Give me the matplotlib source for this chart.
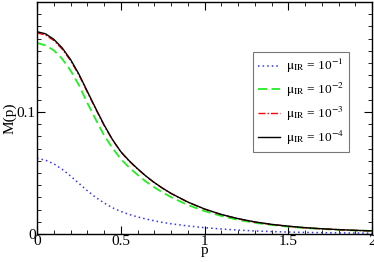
import matplotlib
matplotlib.use("Agg")
import matplotlib.pyplot as plt
from matplotlib.ticker import MultipleLocator, FuncFormatter

plt.rcParams['font.family'] = ['Liberation Serif', 'DejaVu Serif']
plt.rcParams['mathtext.fontset'] = 'stix'

p = [0.0, 0.05, 0.1, 0.15, 0.2, 0.25, 0.3, 0.35, 0.4, 0.45, 0.5, 0.55, 0.6, 0.65, 0.7,
     0.75, 0.8, 0.9, 1.0, 1.1, 1.2, 1.3, 1.4, 1.5, 1.6, 1.7, 1.8, 1.9, 2.0]
m4 = [0.1657, 0.164, 0.1595, 0.1525, 0.143, 0.131, 0.117, 0.103, 0.0895, 0.0775, 0.0675,
      0.0600, 0.0535, 0.0475, 0.0422, 0.0375, 0.0333, 0.0262, 0.0205, 0.0160, 0.0126,
      0.0099, 0.0079, 0.0064, 0.0052, 0.0043, 0.0036, 0.0030, 0.0026]
m3 = [0.1647, 0.1630, 0.1585, 0.1515, 0.1421, 0.1302, 0.1163, 0.1024, 0.0890, 0.0771, 0.0672,
      0.0597, 0.0533, 0.0473, 0.0420, 0.0374, 0.0332, 0.0261, 0.0204, 0.0159, 0.0125,
      0.0098, 0.0078, 0.0063, 0.0051, 0.0042, 0.0035, 0.0029, 0.0025]
m2 = [0.1565, 0.1545, 0.1505, 0.1435, 0.134, 0.122, 0.1075, 0.094, 0.081, 0.0705, 0.0615,
      0.0545, 0.0485, 0.043, 0.0383, 0.034, 0.0302, 0.0238, 0.0188, 0.0148, 0.0116,
      0.0092, 0.0074, 0.0060, 0.0049, 0.0041, 0.0034, 0.0029, 0.0025]
m1 = [0.062, 0.0605, 0.0575, 0.053, 0.0475, 0.0415, 0.0355, 0.030, 0.0255, 0.0215, 0.0185,
      0.016, 0.0140, 0.0123, 0.0108, 0.0095, 0.0084, 0.0066, 0.0052, 0.0041, 0.0032,
      0.0025, 0.0020, 0.0016, 0.0013, 0.0011, 0.0009, 0.0008, 0.0007]

labels = [r'$\mathrm{\mu_{IR}}$ = 10$^{\mathrm{-1}}$', r'$\mathrm{\mu_{IR}}$ = 10$^{\mathrm{-2}}$',
          r'$\mathrm{\mu_{IR}}$ = 10$^{\mathrm{-3}}$', r'$\mathrm{\mu_{IR}}$ = 10$^{\mathrm{-4}}$']

fig = plt.figure(figsize=(3.74, 2.62), dpi=100)
ax = fig.add_axes([37/374, 1-234/262, (372-37)/374, 232/262])

ax.plot(p, m1, color='#3333ff', linestyle=(0, (1, 2)), lw=1.1, label=labels[0])
ax.plot(p, m2, color='#22ee22', linestyle=(0, (5, 2.5)), lw=1.3, label=labels[1])
ax.plot(p, m3, color='#ff0000', linestyle=(0, (5, 1.5, 1, 1.5)), lw=1.0, label=labels[2])
ax.plot(p, m4, color='black', linestyle='-', lw=1.0, label=labels[3])

ax.set_xlim(0, 2)
ax.set_ylim(0, 0.19)
ax.xaxis.set_major_locator(MultipleLocator(0.5))
ax.xaxis.set_minor_locator(MultipleLocator(0.1))
ax.yaxis.set_major_locator(MultipleLocator(0.1))
ax.yaxis.set_minor_locator(MultipleLocator(0.01))
ax.xaxis.set_major_formatter(FuncFormatter(lambda v, _: ('%g' % v)))
ax.yaxis.set_major_formatter(FuncFormatter(lambda v, _: ('%g' % v)))
ax.tick_params(which='both', direction='in', top=True, right=True, labelsize=11, pad=1)
ax.tick_params(which='major', length=6, width=0.8)
ax.tick_params(which='minor', length=3, width=0.6)
for s in ax.spines.values():
    s.set_linewidth(1.0)
ax.set_xlabel('p', fontsize=11, labelpad=-3)
ax.set_ylabel('M(p)', fontsize=11, labelpad=0)

leg = ax.legend(loc='upper left', bbox_to_anchor=((253-37)/335, (234-52)/232), fontsize=9.6,
                frameon=True, fancybox=False, edgecolor='#555555', handlelength=1.6,
                handletextpad=0.45, labelspacing=0.42, borderpad=0.4, borderaxespad=0)
leg.get_frame().set_linewidth(0.8)

fig.savefig('out.png', dpi=100)
